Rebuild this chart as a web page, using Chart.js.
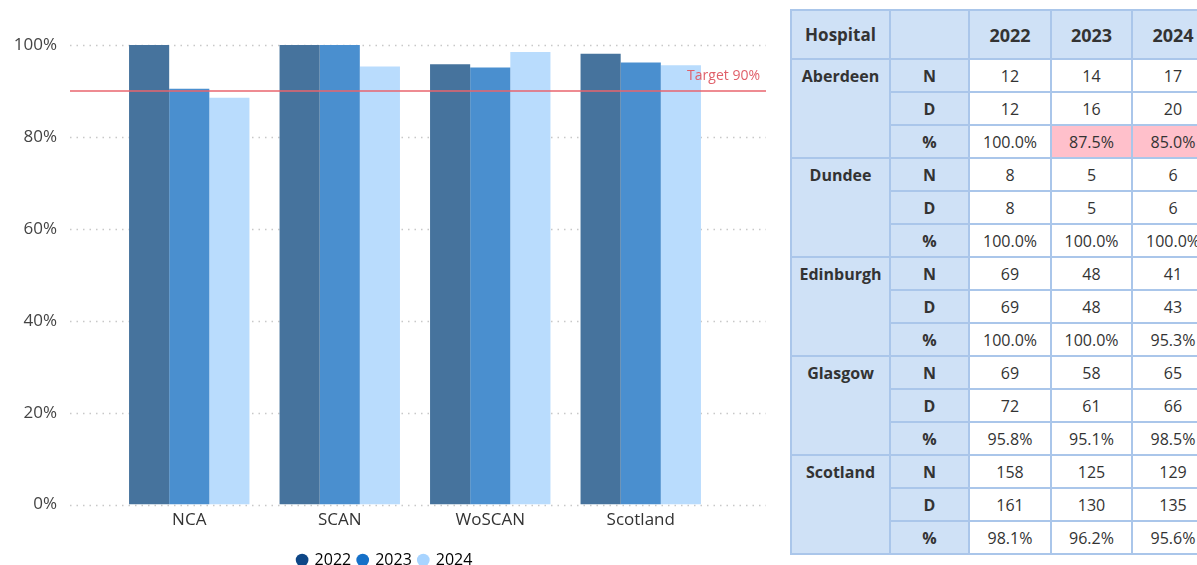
<!DOCTYPE html>
<html>
<head>
<meta charset="utf-8">
<script src="https://cdn.jsdelivr.net/npm/chart.js@4"></script>
<style>
  html, body { margin: 0; padding: 0; background: #fff; }
  body { width: 1197px; height: 565px; overflow: hidden; position: relative; font-family: "Open Sans", "Noto Sans", sans-serif; }
  #chart-box { position: absolute; left: 0; top: 0; width: 780px; height: 578px; }
  #table-box { position: absolute; left: 790px; top: 9px; width: 407px; height: 556px; overflow: hidden; }
  table { border-collapse: collapse; table-layout: fixed; color: #333; width: 423px; }
  td, th { border: 2px solid #aac6ea; text-align: center; padding: 0; }
  th { background: #cfe1f6; font-weight: 700; height: 47px; font-size: 18px; }
  th.hosp { font-size: 17px; }
  td { height: 31px; font-size: 16px; background: #fff; }
  td.hosp { background: #cfe1f6; font-weight: 700; vertical-align: top; padding-top: 5px; }
  td.lbl { background: #cfe1f6; font-weight: 700; }
  td.low { background: #ffc0cb; }
</style>
</head>
<body>
<div id="chart-box"><canvas id="myChart" width="780" height="578"></canvas></div>
<div id="table-box"><table id="tbl"></table></div>
<script>
// chart data
const categories = ['NCA', 'SCAN', 'WoSCAN', 'Scotland'];
const years = ['2022', '2023', '2024'];
const pct2022 = [100, 100, 95.8, 98.1];
const pct2023 = [90.5, 100, 95.1, 96.2];
const pct2024 = [88.5, 95.3, 98.5, 95.6];
const target = 90;
const yTicks = [0, 20, 40, 60, 80, 100];

// table data
const hospitals = ['Aberdeen', 'Dundee', 'Edinburgh', 'Glasgow', 'Scotland'];
const n2022 = [12, 8, 69, 69, 158];
const n2023 = [14, 5, 48, 58, 125];
const n2024 = [17, 6, 41, 65, 129];
const d2022 = [12, 8, 69, 72, 161];
const d2023 = [16, 5, 48, 61, 130];
const d2024 = [20, 6, 43, 66, 135];

const barColors = ['#46739d', '#4a8fcf', '#b9dcfd'];
const legendColors = ['#0e4686', '#1570c8', '#a8d4ff'];
const fontFam = '"Open Sans", "Noto Sans", sans-serif';

// dotted grid lines, wider than the plot area
const gridPlugin = {
    id: 'dotGrid',
    beforeDatasetsDraw(chart) {
        const { ctx, chartArea, scales } = chart;
        ctx.save();
        ctx.strokeStyle = '#c8c8c8';
        ctx.lineWidth = 1.5;
        ctx.setLineDash([1.5, 5]);
        yTicks.forEach(v => {
            const y = Math.round(scales.y.getPixelForValue(v)) + 0.5;
            ctx.beginPath();
            ctx.moveTo(chartArea.left - 44, y);
            ctx.lineTo(chartArea.right + 50, y);
            ctx.stroke();
        });
        ctx.restore();
    }
};

// target line + label
const targetPlugin = {
    id: 'target',
    afterDatasetsDraw(chart) {
        const { ctx, chartArea, scales } = chart;
        const y = scales.y.getPixelForValue(target);
        ctx.save();
        ctx.strokeStyle = '#e8646e';
        ctx.lineWidth = 1.5;
        ctx.beginPath();
        ctx.moveTo(chartArea.left - 44, y);
        ctx.lineTo(chartArea.right + 50, y);
        ctx.stroke();
        ctx.fillStyle = '#e0606a';
        ctx.font = '14px ' + fontFam;
        ctx.textAlign = 'right';
        ctx.textBaseline = 'middle';
        ctx.fillText('Target ' + target + '%', chartArea.right + 44, y - 15);
        ctx.restore();
    }
};

const ctx = document.getElementById('myChart').getContext('2d');
new Chart(ctx, {
    type: 'bar',
    data: {
        labels: categories,
        datasets: [pct2022, pct2023, pct2024].map((vals, i) => ({
            label: years[i],
            data: vals,
            backgroundColor: barColors[i],
            borderWidth: 0,
            categoryPercentage: 0.8,
            barPercentage: 1.0
        }))
    },
    options: {
        responsive: false,
        animation: false,
        devicePixelRatio: 1,
        layout: { padding: { left: 0, right: 10, top: 45, bottom: 0 } },
        scales: {
            x: {
                afterFit: s => { s.height += 10; },
                grid: { display: false, drawTicks: false },
                border: { display: false },
                ticks: { color: '#333', font: { family: fontFam, size: 17 }, padding: 5 }
            },
            y: {
                min: 0, max: 100,
                afterFit: s => { s.width = 114; s.paddingTop = 0; s.paddingBottom = 0; },
                afterBuildTicks: s => { s.ticks = yTicks.map(v => ({ value: v })); },
                grid: { display: false, drawTicks: false },
                border: { display: false },
                ticks: {
                    color: '#444',
                    padding: 57,
                    font: { family: fontFam, size: 17 },
                    callback: v => v + '%'
                }
            },
            y2: {
                position: 'right',
                display: true,
                afterFit: s => { s.width = 54; s.paddingTop = 0; s.paddingBottom = 0; },
                grid: { display: false, drawTicks: false },
                border: { display: false },
                ticks: { display: false }
            }
        },
        plugins: {
            legend: {
                position: 'bottom',
                labels: {
                    color: '#333',
                    font: { family: fontFam, size: 16 },
                    usePointStyle: true,
                    boxWidth: 9,
                    boxHeight: 9,
                    padding: 7,
                    generateLabels: () => years.map((y, i) => ({
                        text: y,
                        fillStyle: legendColors[i],
                        strokeStyle: legendColors[i],
                        pointStyle: 'circle',
                        lineWidth: 0,
                        datasetIndex: i
                    }))
                }
            },
            tooltip: { enabled: false }
        }
    },
    plugins: [gridPlugin, targetPlugin]
});

// table
function pctText(n, d) { return (n / d * 100).toFixed(1) + '%'; }

function buildTable() {
    const tbl = document.getElementById('tbl');
    const colW = [99, 79, 82, 81, 82];
    let html = '<colgroup>' + colW.map(w => `<col style="width:${w}px">`).join('') + '</colgroup>';
    html += '<tr><th class="hosp">Hospital</th><th></th>' + years.map(y => `<th>${y}</th>`).join('') + '</tr>';
    const ns = [n2022, n2023, n2024];
    const ds = [d2022, d2023, d2024];
    hospitals.forEach((h, i) => {
        html += `<tr><td class="hosp" rowspan="3">${h}</td><td class="lbl">N</td>` +
            ns.map(a => `<td>${a[i]}</td>`).join('') + '</tr>';
        html += '<tr><td class="lbl">D</td>' + ds.map(a => `<td>${a[i]}</td>`).join('') + '</tr>';
        html += '<tr><td class="lbl">%</td>' + ns.map((a, k) => {
            const p = a[i] / ds[k][i] * 100;
            return `<td class="${p < target ? 'low' : ''}">${pctText(a[i], ds[k][i])}</td>`;
        }).join('') + '</tr>';
    });
    tbl.innerHTML = html;
}
buildTable();
</script>
</body>
</html>
